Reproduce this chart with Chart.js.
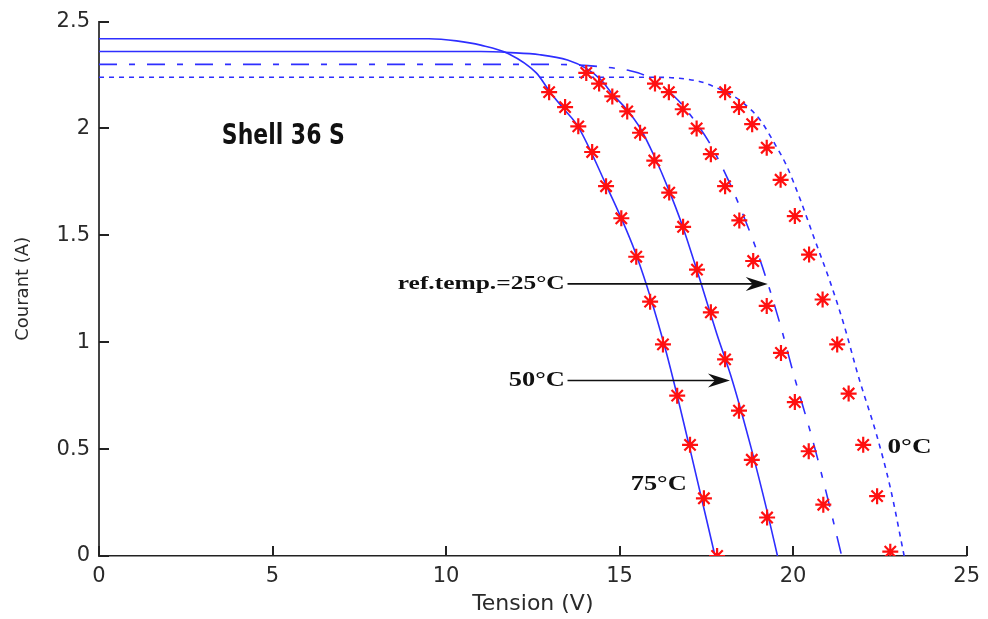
<!DOCTYPE html>
<html>
<head>
<meta charset="utf-8">
<script src="https://cdn.jsdelivr.net/npm/chart.js@4.4.0/dist/chart.umd.min.js"></script>
<style>
  body { margin: 0; background: #fff; }
  #wrap { width: 988px; height: 619px; position: relative; }
</style>
</head>
<body>
<div id="wrap"><canvas id="ivChart"></canvas></div>
<script>
// axis ticks
const xTicks = [0, 5, 10, 15, 20, 25];
const yTicks = [0, 0.5, 1, 1.5, 2, 2.5];

// simulated I-V curves
const c75V = [0, 9.5, 10.3, 11.0, 11.8, 12.6, 13.0, 13.4, 13.8, 14.6, 15.5, 16.3, 17.0, 17.75];
const c75I = [2.42, 2.42, 2.41, 2.39, 2.35, 2.26, 2.17, 2.09, 2.01, 1.74, 1.40, 0.98, 0.52, 0];

const c50V = [0, 11.0, 11.85, 12.7, 13.5, 14.05, 14.45, 14.8, 15.2, 15.6, 16.0, 16.4, 16.8, 17.3, 17.8, 18.25, 18.8, 19.25, 19.55];
const c50I = [2.36, 2.36, 2.355, 2.345, 2.32, 2.28, 2.23, 2.16, 2.09, 2.0, 1.87, 1.72, 1.55, 1.30, 1.04, 0.82, 0.50, 0.21, 0];

const c25V = [0, 13.0, 14.4, 15.3, 15.7, 16.2, 16.7, 17.1, 17.6, 18.1, 18.5, 18.95, 19.3, 19.65, 20.05, 20.55, 20.95, 21.4];
const c25I = [2.30, 2.30, 2.29, 2.27, 2.25, 2.20, 2.13, 2.05, 1.93, 1.77, 1.62, 1.43, 1.26, 1.07, 0.83, 0.55, 0.30, 0];

const c0V = [0, 15.9, 17.3, 17.8, 18.3, 18.7, 19.05, 19.5, 19.8, 20.2, 20.6, 21.05, 21.45, 21.9, 22.4, 22.8, 23.2];
const c0I = [2.24, 2.24, 2.22, 2.19, 2.15, 2.10, 2.04, 1.92, 1.83, 1.67, 1.49, 1.29, 1.09, 0.83, 0.57, 0.32, 0];

// measured points (red stars)
const m75V = [12.97, 13.43, 13.81, 14.21, 14.61, 15.05, 15.48, 15.88, 16.25, 16.66, 17.03, 17.43, 17.81];
const m75I = [2.17, 2.10, 2.01, 1.89, 1.73, 1.58, 1.40, 1.19, 0.99, 0.75, 0.52, 0.27, 0.00];

const m50V = [14.04, 14.41, 14.79, 15.22, 15.59, 16.00, 16.43, 16.83, 17.23, 17.63, 18.04, 18.44, 18.81, 19.25];
const m50I = [2.26, 2.21, 2.15, 2.08, 1.98, 1.85, 1.70, 1.54, 1.34, 1.14, 0.92, 0.68, 0.45, 0.18];

const m25V = [16.02, 16.42, 16.82, 17.22, 17.63, 18.04, 18.45, 18.85, 19.24, 19.65, 20.05, 20.45, 20.87];
const m25I = [2.21, 2.17, 2.09, 2.00, 1.88, 1.73, 1.57, 1.38, 1.17, 0.95, 0.72, 0.49, 0.24];

const m0V = [18.04, 18.44, 18.82, 19.24, 19.64, 20.05, 20.46, 20.85, 21.27, 21.60, 22.02, 22.42, 22.80];
const m0I = [2.17, 2.10, 2.02, 1.91, 1.76, 1.59, 1.41, 1.20, 0.99, 0.76, 0.52, 0.28, 0.02];

function toPoints(xs, ys) {
    return xs.map((x, i) => ({ x: x, y: ys[i] }));
}

const blue = '#2e2eff';

function curve(xs, ys, dash) {
    return {
        data: toPoints(xs, ys),
        showLine: true,
        borderColor: blue,
        borderWidth: 1.6,
        borderDash: dash,
        pointRadius: 0,
        cubicInterpolationMode: 'monotone',
        order: 2
    };
}

function stars(xs, ys) {
    return {
        data: toPoints(xs, ys),
        showLine: false,
        pointStyle: 'star',
        pointRadius: 8,
        pointBorderWidth: 2.2,
        pointBorderColor: '#ff1010',
        pointBackgroundColor: '#ff1010',
        order: 1
    };
}

// draw text squeezed/stretched to a given width
function fitText(ctx, text, x, y, font, width, align) {
    ctx.save();
    ctx.font = font;
    const w = ctx.measureText(text).width;
    ctx.translate(x, y);
    ctx.scale(width / w, 1);
    ctx.textAlign = align;
    ctx.textBaseline = 'middle';
    ctx.fillStyle = '#111';
    ctx.fillText(text, 0, 0);
    ctx.restore();
}

function arrow(ctx, x1, x2, y) {
    ctx.save();
    ctx.strokeStyle = '#111';
    ctx.fillStyle = '#111';
    ctx.lineWidth = 1.6;
    ctx.beginPath();
    ctx.moveTo(x1, y);
    ctx.lineTo(x2 - 8, y);
    ctx.stroke();
    ctx.beginPath();
    ctx.moveTo(x2, y);
    ctx.lineTo(x2 - 22, y - 7);
    ctx.lineTo(x2 - 15, y);
    ctx.lineTo(x2 - 22, y + 7);
    ctx.closePath();
    ctx.fill();
    ctx.restore();
}

// inward ticks, matlab style
const innerTicks = {
    id: 'innerTicks',
    afterDatasetsDraw(chart) {
        const c = chart.ctx;
        const xs = chart.scales.x, ys = chart.scales.y;
        const area = chart.chartArea;
        c.save();
        c.strokeStyle = '#222';
        c.lineWidth = 2;
        xTicks.forEach(v => {
            const px = Math.round(xs.getPixelForValue(v));
            c.beginPath();
            c.moveTo(px, area.bottom);
            c.lineTo(px, area.bottom - 10);
            c.stroke();
        });
        yTicks.forEach(v => {
            const py = Math.round(ys.getPixelForValue(v));
            c.beginPath();
            c.moveTo(area.left, py);
            c.lineTo(area.left + 10, py);
            c.stroke();
        });
        c.restore();
    }
};

const labels = {
    id: 'labels',
    afterDatasetsDraw(chart) {
        const c = chart.ctx;
        const X = v => chart.scales.x.getPixelForValue(v);
        const Y = v => chart.scales.y.getPixelForValue(v);
        fitText(c, 'Shell 36 S', X(3.54), Y(1.96), 'bold 28px "DejaVu Sans"', 123, 'left');
        fitText(c, 'ref.temp.=25°C', X(13.42), Y(1.273), 'bold 19px "Liberation Serif"', 167, 'right');
        arrow(c, X(13.5), X(19.27), Y(1.273));
        fitText(c, '50°C', X(13.42), Y(0.821), 'bold 21px "Liberation Serif"', 56, 'right');
        arrow(c, X(13.5), X(18.18), Y(0.821));
        fitText(c, '75°C', X(15.32), Y(0.337), 'bold 22px "Liberation Serif"', 56, 'left');
        fitText(c, '0°C', X(22.72), Y(0.507), 'bold 22px "Liberation Serif"', 44, 'left');
    }
};

const ctx = document.getElementById('ivChart').getContext('2d');

new Chart(ctx, {
    type: 'scatter',
    data: {
        datasets: [
            stars(m75V, m75I),
            stars(m50V, m50I),
            stars(m25V, m25I),
            stars(m0V, m0I),
            curve(c75V, c75I, []),
            curve(c50V, c50I, []),
            curve(c25V, c25I, [18, 12, 6, 12]),
            curve(c0V, c0I, [5, 5])
        ]
    },
    options: {
        responsive: true,
        maintainAspectRatio: false,
        animation: false,
        layout: { padding: { top: 14, right: 21, left: 0, bottom: 0 } },
        plugins: {
            legend: { display: false },
            tooltip: { enabled: false }
        },
        scales: {
            x: {
                type: 'linear',
                min: 0,
                max: 25,
                afterFit: s => { s.height = 63; },
                afterBuildTicks: s => { s.ticks = xTicks.map(v => ({ value: v })); },
                grid: { display: false, drawTicks: false },
                border: { display: true, color: '#222', width: 1.5 },
                ticks: {
                    padding: 8,
                    color: '#2a2a2a',
                    font: { family: 'DejaVu Sans', size: 21 },
                    callback: v => String(v)
                },
                title: {
                    display: true,
                    text: 'Tension (V)',
                    color: '#2a2a2a',
                    font: { family: 'DejaVu Sans', size: 22 },
                    padding: { top: 0, bottom: 2 }
                }
            },
            y: {
                type: 'linear',
                min: 0,
                max: 2.5,
                afterFit: s => { s.width = 99; },
                afterBuildTicks: s => { s.ticks = yTicks.map(v => ({ value: v })); },
                grid: { display: false, drawTicks: false },
                border: { display: true, color: '#444', width: 2 },
                ticks: {
                    padding: 9,
                    color: '#2a2a2a',
                    font: { family: 'DejaVu Sans', size: 21 },
                    callback: v => String(v)
                },
                title: {
                    display: true,
                    text: 'Courant (A)',
                    color: '#2a2a2a',
                    font: { family: 'DejaVu Sans', size: 18 },
                    padding: { top: 13, bottom: 0 }
                }
            }
        }
    },
    plugins: [innerTicks, labels]
});
</script>
</body>
</html>
